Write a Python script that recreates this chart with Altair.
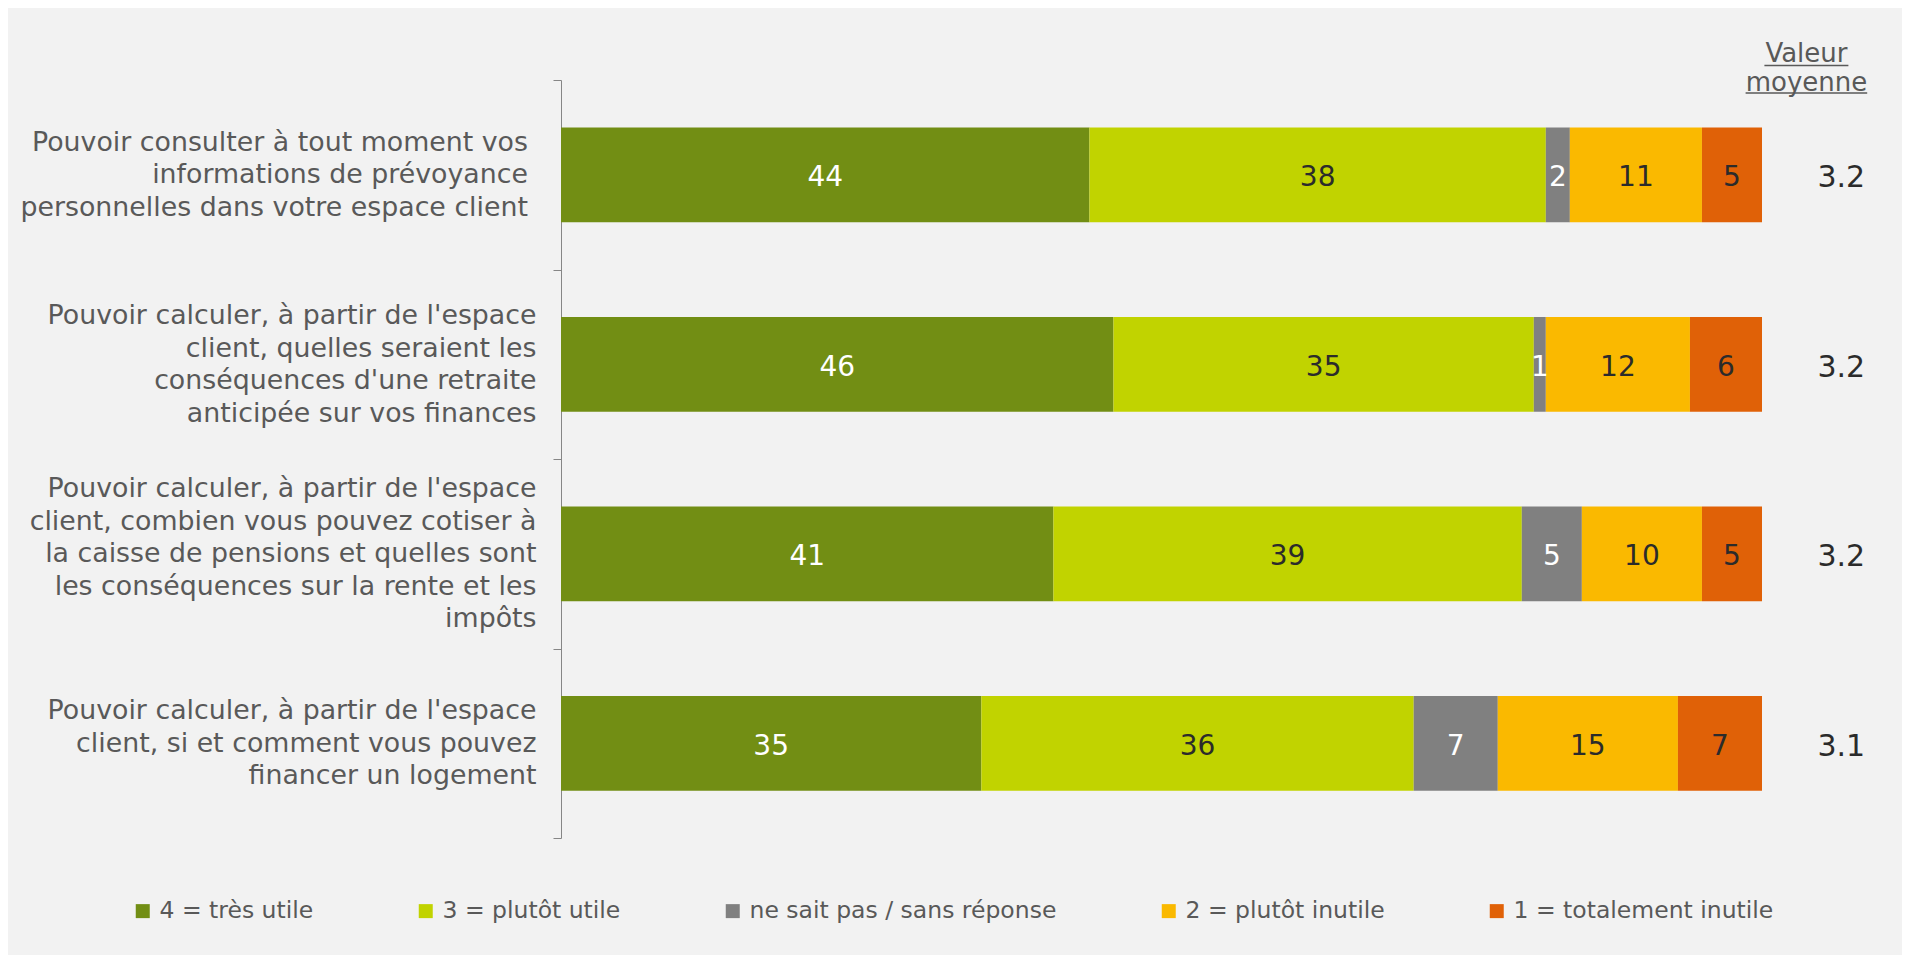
import altair as alt
import pandas as pd

# ---- data ----
SP = "\u00a0\u2060"  # trailing space as in the reference's first label
items = [
    "Pouvoir consulter à tout moment vos" + SP + "|informations de prévoyance" + SP + "|personnelles dans votre espace client" + SP,
    "Pouvoir calculer, à partir de l'espace|client, quelles seraient les|conséquences d'une retraite|anticipée sur vos finances",
    "Pouvoir calculer, à partir de l'espace|client, combien vous pouvez cotiser à|la caisse de pensions et quelles sont|les conséquences sur la rente et les|impôts",
    "Pouvoir calculer, à partir de l'espace|client, si et comment vous pouvez|financer un logement",
]
categories = [
    "4 = très utile",
    "3 = plutôt utile",
    "ne sait pas / sans réponse",
    "2 = plutôt inutile",
    "1 = totalement inutile",
]
tres_utile = [44, 46, 41, 35]
plutot_utile = [38, 35, 39, 36]
ne_sait_pas = [2, 1, 5, 7]
plutot_inutile = [11, 12, 10, 15]
totalement_inutile = [5, 6, 5, 7]
means = [3.2, 3.2, 3.2, 3.1]
header = "Valeur|moyenne"

colors = ["#728e14", "#c1d300", "#808080", "#fab900", "#e06107"]

series = [tres_utile, plutot_utile, ne_sait_pas, plutot_inutile, totalement_inutile]
rows = []
for ci, (cat, vals) in enumerate(zip(categories, series)):
    for item, v in zip(items, vals):
        rows.append({"item": item, "cat": cat, "rank": ci, "value": v})
df = pd.DataFrame(rows)
df_means = pd.DataFrame({"item": items, "mean": means})

FONT = "DejaVu Sans"
W, H = 1201, 758
LH = 32.5

xscale = alt.Scale(domain=[0, 100], nice=False, zero=True)

# centre multi-line labels on their band
label_offset = {
    "condition": [
        {"test": "length(split(datum.value, '|')) == 5", "value": -2 * LH},
        {"test": "length(split(datum.value, '|')) == 4", "value": -1.5 * LH},
        {"test": "length(split(datum.value, '|')) == 2", "value": -0.5 * LH},
    ],
    "value": -1 * LH,
}

Y = alt.Y(
    "item:N",
    sort=items,
    scale=alt.Scale(paddingInner=0, paddingOuter=0),
    axis=alt.Axis(
        title=None,
        labelExpr="split(datum.label, '|')",
        labelFont=FONT,
        labelFontSize=26.8,
        labelColor="#595959",
        labelLineHeight=LH,
        labelPadding=17,
        labelLimit=700,
        labelAlign="right",
        labelBaseline="middle",
        labelOffset=label_offset,
        tickSize=8,
        tickBand="extent",
        tickColor="#868686",
        domainColor="#868686",
        domainWidth=1,
        tickWidth=1,
        grid=False,
    ),
)

bars = alt.Chart(df).mark_bar(height=alt.RelativeBandSize(band=0.5)).encode(
    x=alt.X("value:Q", stack="zero", scale=xscale, axis=None),
    y=Y,
    color=alt.Color(
        "cat:N",
        scale=alt.Scale(domain=categories, range=colors),
        legend=alt.Legend(
            title=None,
            orient="none",
            legendX=-430,
            legendY=819,
            direction="horizontal",
            columns=5,
            columnPadding=100,
            symbolType="square",
            symbolSize=196,
            symbolStrokeWidth=0,
            symbolOpacity=1,
            labelFont=FONT,
            labelFontSize=23.5,
            labelColor="#595959",
            labelOffset=5,
            labelLimit=0,
            padding=0,
        ),
    ),
    order=alt.Order("rank:Q"),
)

labels = (
    alt.Chart(df)
    .transform_stack(
        stack="value",
        groupby=["item"],
        as_=["v0", "v1"],
        sort=[alt.SortField("rank", order="ascending")],
    )
    .transform_calculate(
        mid="(datum.v0 + datum.v1) / 2",
        tc="(datum.rank == 0 || datum.rank == 2) ? '#ffffff' : '#2b2b2b'",
    )
    .mark_text(font=FONT, fontSize=28, align="center", baseline="middle", dy=3.5)
    .encode(
        x=alt.X("mid:Q", scale=xscale, axis=None),
        y=Y,
        text=alt.Text("value:Q"),
        color=alt.Color("tc:N", scale=None),
    )
)

mean_text = (
    alt.Chart(df_means)
    .mark_text(font=FONT, fontSize=30, align="center", baseline="middle", dy=3.5, color="#2b2b2b")
    .encode(
        x=alt.datum(106.6),
        y=Y,
        text=alt.Text("mean:Q", format=".1f"),
    )
)

head = (
    alt.Chart(alt.Data(values=[{"h": header}]))
    .mark_text(
        font=FONT,
        fontSize=26,
        align="center",
        baseline="alphabetic",
        lineBreak="|",
        lineHeight=29,
        color="#595959",
    )
    .encode(x=alt.datum(103.7), y=alt.value(-18), text="h:N")
)

ul1 = (
    alt.Chart(alt.Data(values=[{"h": header}]))
    .mark_rule(color="#595959", strokeWidth=1.5)
    .encode(x=alt.value(1203.4), x2=alt.value(1287.4), y=alt.value(-14.5))
)
ul2 = (
    alt.Chart(alt.Data(values=[{"h": header}]))
    .mark_rule(color="#595959", strokeWidth=1.5)
    .encode(x=alt.value(1184.6), x2=alt.value(1306.2), y=alt.value(13))
)

chart = (
    alt.layer(bars, labels, mean_text, head, ul1, ul2)
    .properties(
        width=W,
        height=H,
        background="#f2f2f2",
        autosize=alt.AutoSizeParams(type="none"),
        padding={"left": 553, "top": 72, "right": 140, "bottom": 117},
    )
    .configure(font=FONT, view=alt.ViewConfig(strokeWidth=0))
)

chart.save("out.html", embed_options={"renderer": "svg", "actions": False})
